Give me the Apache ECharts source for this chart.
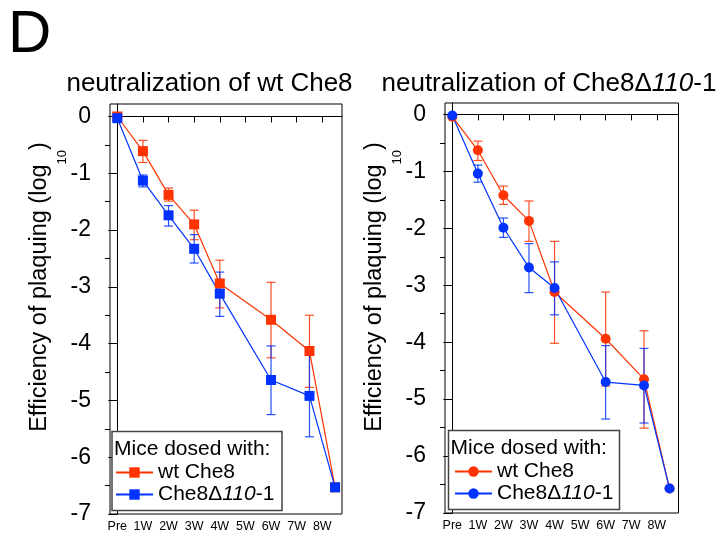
<!DOCTYPE html>
<html><head><meta charset="utf-8">
<script src="https://cdn.jsdelivr.net/npm/echarts@6/dist/echarts.min.js"></script>
<style>html,body{margin:0;padding:0;background:#fff}#c{width:720px;height:538px}</style>
</head><body><div id="c"></div>
<script>
// ---- tick labels / categories ----
const xTickLabels = ['Pre', '1W', '2W', '3W', '4W', '5W', '6W', '7W', '8W'];
const xTickValues = [0, 1, 2, 3, 4, 5, 6, 7, 8];
const yTickValues = [0, -1, -2, -3, -4, -5, -6, -7];
const yMinorTickValues = [-0.5, -1.5, -2.5, -3.5, -4.5, -5.5, -6.5];
// x positions (weeks) of the measurements
const weekPos = [0, 1, 2, 3, 4, 6, 7.5, 8.5];

// ---- left panel: neutralization of wt Che8 ----
const leftWtMean  = [0.00, -0.61, -1.38, -1.90, -2.94, -3.58, -4.13, -6.53];
const leftWtHigh  = [0.03, -0.42, -1.26, -1.65, -2.53, -2.92, -3.50, null];
const leftWtLow   = [-0.03, -0.81, -1.49, -2.17, -3.37, -4.25, -4.77, null];
const leftDelMean = [-0.03, -1.13, -1.74, -2.33, -3.12, -4.64, -4.92, -6.53];
const leftDelHigh = [-0.01, -1.03, -1.57, -2.08, -2.74, -4.04, -4.20, null];
const leftDelLow  = [-0.05, -1.24, -1.93, -2.58, -3.52, -5.25, -5.64, null];

// ---- right panel: neutralization of Che8Δ110-1 ----
const rightWtMean  = [-0.04, -0.63, -1.42, -1.87, -3.12, -3.94, -4.65, -6.57];
const rightWtHigh  = [-0.02, -0.47, -1.26, -1.52, -2.23, -3.12, -3.80, null];
const rightWtLow   = [-0.06, -0.81, -1.58, -2.23, -4.02, -4.77, -5.51, null];
const rightDelMean = [-0.02, -1.04, -1.99, -2.69, -3.05, -4.70, -4.76, -6.57];
const rightDelHigh = [-0.01, -0.89, -1.82, -2.27, -2.59, -4.06, -4.11, null];
const rightDelLow  = [-0.03, -1.19, -2.16, -3.13, -3.52, -5.35, -5.42, null];

const RED = '#ff3300';
const BLUE = '#0033ff';
const FONT = 'Liberation Sans, Arial, Helvetica, sans-serif';

function pairs(pos, vals) { return pos.map((p, i) => [p, vals[i]]); }
function errData(pos, hi, lo) {
  const out = [];
  pos.forEach((p, i) => { if (hi[i] != null) out.push([p, hi[i], lo[i]]); });
  return out;
}
function errSeries(xi, yi, pos, hi, lo, color) {
  return {
    type: 'custom', xAxisIndex: xi, yAxisIndex: yi, silent: true,
    data: errData(pos, hi, lo),
    encode: { x: 0, y: [1, 2] },
    renderItem: function (params, api) {
      const x = api.value(0);
      const t = api.coord([x, api.value(1)]);
      const b = api.coord([x, api.value(2)]);
      const w = 4.5;
      const st = { stroke: color, lineWidth: 1.2, opacity: 0.85 };
      return { type: 'group', children: [
        { type: 'line', shape: { x1: t[0], y1: t[1], x2: b[0], y2: b[1] }, style: st },
        { type: 'line', shape: { x1: t[0] - w, y1: t[1], x2: t[0] + w, y2: t[1] }, style: st },
        { type: 'line', shape: { x1: b[0] - w, y1: b[1], x2: b[0] + w, y2: b[1] }, style: st }
      ]};
    }
  };
}
function lineSeries(name, xi, yi, pos, vals, color, sym) {
  return {
    type: 'line', name: name, xAxisIndex: xi, yAxisIndex: yi,
    data: pairs(pos, vals), symbol: sym, symbolSize: 10, showSymbol: true,
    lineStyle: { color: color, width: 1.2 }, itemStyle: { color: color },
    emphasis: { disabled: true }
  };
}
function xAxisDef(grid, min, max) {
  return {
    type: 'value', gridIndex: grid, min: min, max: max,
    axisLine: { show: true, lineStyle: { color: '#000', width: 1 } },
    axisTick: { show: true, inside: false, length: 6, customValues: xTickValues, lineStyle: { color: '#000' } },
    axisLabel: { show: true, customValues: xTickValues, margin: 6, fontSize: 12.5, color: '#000', fontFamily: FONT,
      formatter: v => xTickLabels[Math.round(v)] },
    splitLine: { show: false }
  };
}
function yAxisDef(grid, max) {
  return {
    type: 'value', gridIndex: grid, min: -7, max: max, position: 'left',
    axisLine: { show: true, lineStyle: { color: '#000', width: 1 } },
    axisTick: { show: true, inside: false, length: 9, customValues: yTickValues, lineStyle: { color: '#000' } },
    axisLabel: { show: true, customValues: yTickValues, margin: 19, fontSize: 23, color: '#000', fontFamily: FONT },
    splitLine: { show: false }
  };
}
function yMinorDef(grid, max) {
  return {
    type: 'value', gridIndex: grid, min: -7, max: max, position: 'left', offset: 0,
    axisLine: { show: false },
    axisTick: { show: true, inside: false, length: 5, customValues: yMinorTickValues, lineStyle: { color: '#000' } },
    axisLabel: { show: false },
    splitLine: { show: false }
  };
}
const legendFmt = n => (n.trim() === 'wt Che8' ? '{n|wt Che8}' : '{n|Che8Δ}{i|110}{n|-1}');
const legendText = { fontSize: 21, color: '#000', fontFamily: FONT,
  rich: { n: { fontSize: 21, fontFamily: FONT, color: '#000' }, i: { fontSize: 21, fontStyle: 'italic', fontFamily: FONT, color: '#000' } } };

const yLabelRich = {
  m: { fontSize: 23.5, fontFamily: FONT, color: '#000', lineHeight: 58, verticalAlign: 'middle' },
  s: { fontSize: 13, fontFamily: FONT, color: '#000', lineHeight: 14, verticalAlign: 'bottom' }
};
const yLabelText = '{m|Efficiency of plaquing (log}{s|10}{m|)}';

const option = {
  animation: false,
  backgroundColor: '#fff',
  grid: [
    { left: 110, top: 104, width: 232, height: 410, show: true, borderColor: '#000', borderWidth: 1, backgroundColor: 'transparent' },
    { left: 445, top: 103, width: 233.5, height: 410, show: true, borderColor: '#000', borderWidth: 1, backgroundColor: 'transparent' }
  ],
  xAxis: [ xAxisDef(0, -0.285, 8.77), xAxisDef(1, -0.286, 8.85) ],
  yAxis: [ yAxisDef(0, 0.22), yMinorDef(0, 0.22), yAxisDef(1, 0.2), yMinorDef(1, 0.2) ],
  legend: [
    { data: ['wt Che8', 'Che8Δ110-1'], orient: 'vertical', left: 115, top: 462, padding: 0,
      itemWidth: 37, itemHeight: 13, itemGap: 1, formatter: legendFmt, textStyle: legendText, selectedMode: false },
    { data: ['wt Che8 ', 'Che8Δ110-1 '], orient: 'vertical', left: 454, top: 461, padding: 0,
      itemWidth: 37, itemHeight: 13, itemGap: 1, formatter: legendFmt, textStyle: legendText, selectedMode: false }
  ],
  graphic: [
    { type: 'text', left: 8, top: 5, style: { text: 'D', fontSize: 60, fontFamily: FONT, fill: '#000' } },
    { type: 'text', x: 209.5, y: 84, style: { text: 'neutralization of wt Che8', fontSize: 26, fontFamily: FONT, fill: '#000', align: 'center', verticalAlign: 'middle' } },
    { type: 'text', x: 381.5, y: 84, style: { text: '{n|neutralization of Che8Δ}{i|110}{n|-1}', align: 'left', verticalAlign: 'middle',
        rich: { n: { fontSize: 26, fontFamily: FONT, fill: '#000' }, i: { fontSize: 26, fontFamily: FONT, fontStyle: 'italic', fill: '#000' } } } },
    { type: 'text', x: 40, y: 287, rotation: Math.PI / 2, style: { text: yLabelText, rich: yLabelRich, align: 'center', verticalAlign: 'middle' } },
    { type: 'text', x: 374.5, y: 287, rotation: Math.PI / 2, style: { text: yLabelText, rich: yLabelRich, align: 'center', verticalAlign: 'middle' } },
    { type: 'rect', shape: { x: 112, y: 431.5, width: 170, height: 79 }, style: { fill: '#fff', stroke: '#444', lineWidth: 1.5 }, z: 3 },
    { type: 'text', x: 114, y: 449, z: 4, style: { text: 'Mice dosed with:', fontSize: 21, fontFamily: FONT, fill: '#000', align: 'left', verticalAlign: 'middle' } },
    { type: 'rect', shape: { x: 448.5, y: 430.5, width: 171, height: 79 }, style: { fill: '#fff', stroke: '#444', lineWidth: 1.5 }, z: 3 },
    { type: 'text', x: 450.5, y: 448.5, z: 4, style: { text: 'Mice dosed with:', fontSize: 21, fontFamily: FONT, fill: '#000', align: 'left', verticalAlign: 'middle' } }
  ],
  series: [
    errSeries(0, 0, weekPos, leftWtHigh, leftWtLow, RED),
    lineSeries('wt Che8', 0, 0, weekPos, leftWtMean, RED, 'rect'),
    errSeries(0, 0, weekPos, leftDelHigh, leftDelLow, BLUE),
    lineSeries('Che8Δ110-1', 0, 0, weekPos, leftDelMean, BLUE, 'rect'),
    errSeries(1, 2, weekPos, rightWtHigh, rightWtLow, RED),
    lineSeries('wt Che8 ', 1, 2, weekPos, rightWtMean, RED, 'circle'),
    errSeries(1, 2, weekPos, rightDelHigh, rightDelLow, BLUE),
    lineSeries('Che8Δ110-1 ', 1, 2, weekPos, rightDelMean, BLUE, 'circle')
  ]
};
const chart = echarts.init(document.getElementById('c'), null, { renderer: 'canvas' });
chart.setOption(option);
</script>
</body></html>
